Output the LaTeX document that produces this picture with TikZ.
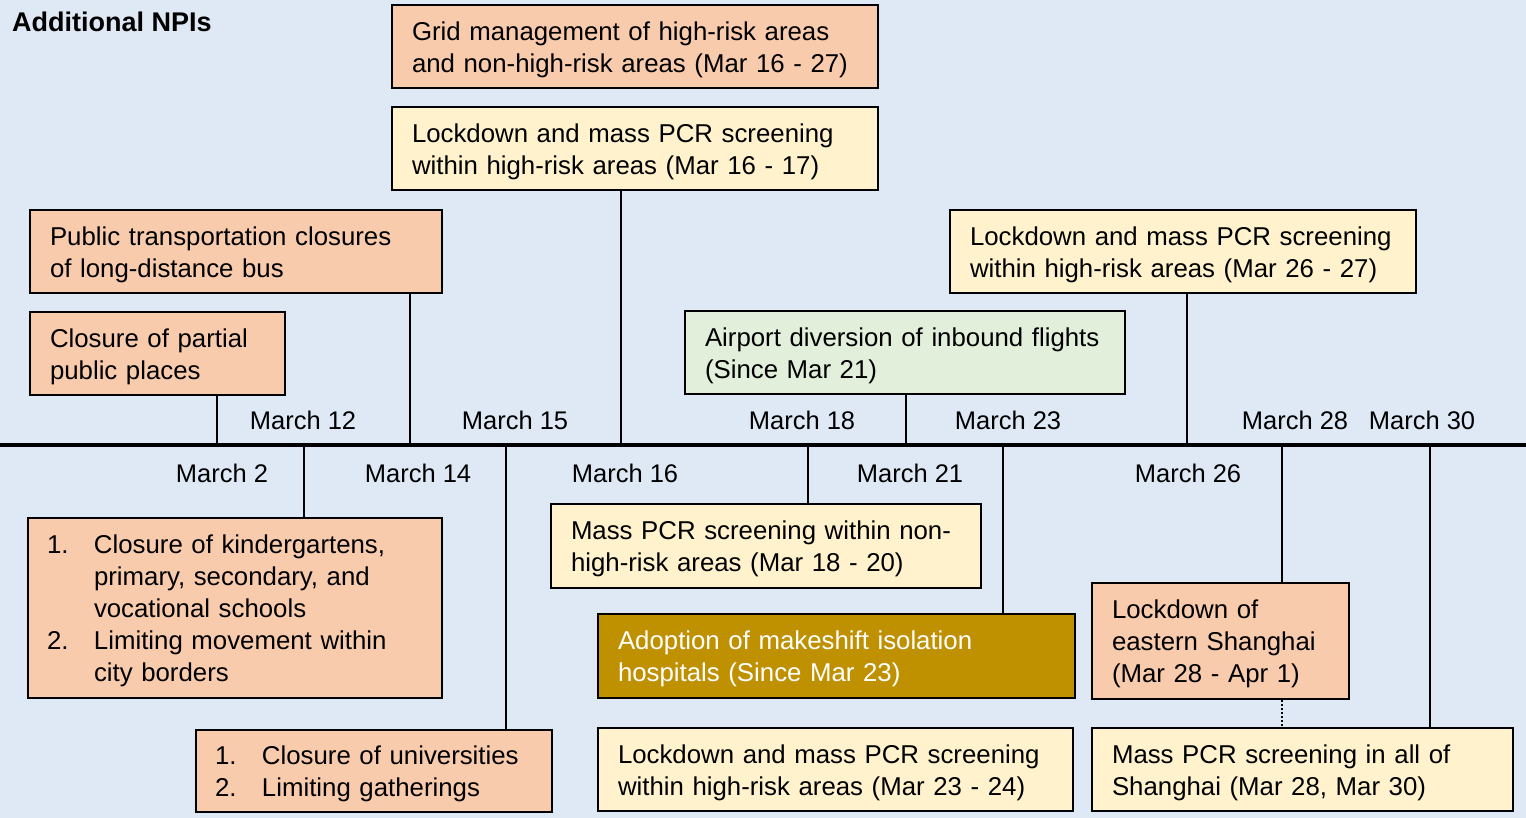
\documentclass[tikz,border=0pt]{standalone}
\usepackage{fontspec}
\setmainfont{Liberation Sans}
\definecolor{bgblue}{HTML}{DEE9F5}
\definecolor{salmon}{HTML}{F8CBAD}
\definecolor{lyellow}{HTML}{FFF2CC}
\definecolor{lgreen}{HTML}{E2EFDA}
\definecolor{gold}{HTML}{BF9000}
\tikzset{
  box/.style={draw=black, line width=2pt, anchor=north west, inner xsep=20pt, inner ysep=0pt, align=left, font=\fontsize{25.8}{32}\selectfont, execute at begin node={\rule{0pt}{25pt}}},
  datelbl/.style={inner sep=0pt, font=\fontsize{25.5}{30}\selectfont},
  conn/.style={line width=2pt, draw=black},
}
\newcommand{\itm}[1]{\makebox[47pt][l]{#1}}
\newcommand{\ind}{\hspace*{47pt}}
\begin{document}
\begin{tikzpicture}[x=1pt,y=-1pt]
\fill[bgblue] (0,0) rectangle (1526,818);
\useasboundingbox (0,0) rectangle (1526,818);
\node[anchor=west, inner sep=0pt, font=\fontsize{27}{32}\selectfont\bfseries] (title) at (12,22) {Additional NPIs};
% timeline
\coordinate (tl0) at (0,445);
\coordinate (tl1) at (1526,445);
\draw[line width=4pt] (tl0) -- (tl1);
% top boxes
\node[box, fill=salmon, text width=446pt, minimum height=83pt] (grid) at (391,4) {Grid management of high-risk areas\\and non-high-risk areas (Mar 16 - 27)};
\node[box, fill=lyellow, text width=446pt, minimum height=83pt] (lockA) at (391,106) {Lockdown and mass PCR screening\\within high-risk areas (Mar 16 - 17)};
\node[box, fill=salmon, text width=372pt, minimum height=83pt] (transport) at (29,209) {Public transportation closures\\of long-distance bus};
\node[box, fill=salmon, text width=215pt, minimum height=83pt] (partial) at (29,311) {Closure of partial\\public places};
\node[box, fill=lgreen, text width=400pt, minimum height=83pt] (airport) at (684,310) {Airport diversion of inbound flights\\(Since Mar 21)};
\node[box, fill=lyellow, text width=426pt, minimum height=83pt] (lockD) at (949,209) {Lockdown and mass PCR screening\\within high-risk areas (Mar 26 - 27)};
% bottom boxes
\node[box, fill=salmon, text width=376pt, inner xsep=19pt, minimum height=180pt] (kinder) at (27,517) {\itm{1.}Closure of kindergartens,\\\ind primary, secondary, and\\\ind vocational schools\\\itm{2.}Limiting movement within\\\ind city borders};
\node[box, fill=salmon, text width=318pt, inner xsep=19pt, minimum height=82pt] (univ) at (195,729) {\itm{1.}Closure of universities\\\itm{2.}Limiting gatherings};
\node[box, fill=lyellow, text width=390pt, minimum height=84pt] (pcrnon) at (550,503) {\mbox{Mass PCR screening within non-}\\\mbox{high-risk areas (Mar 18 - 20)}};
\node[box, fill=gold, text=white, text width=437pt, minimum height=84pt] (makeshift) at (597,613) {Adoption of makeshift isolation\\hospitals (Since Mar 23)};
\node[box, fill=lyellow, text width=435pt, minimum height=83pt] (lockC) at (597,727) {Lockdown and mass PCR screening\\within high-risk areas (Mar 23 - 24)};
\node[box, fill=salmon, text width=217pt, minimum height=116pt] (eastern) at (1091,582) {Lockdown of\\eastern Shanghai\\(Mar 28 - Apr 1)};
\node[box, fill=lyellow, text width=381pt, minimum height=83pt] (pcrall) at (1091,727) {Mass PCR screening in all of\\Shanghai (Mar 28, Mar 30)};
% timeline anchor points
\coordinate (u1) at (217,445);
\coordinate (u2) at (410,445);
\coordinate (u3) at (621,445);
\coordinate (u4) at (906,445);
\coordinate (u5) at (1187,445);
\coordinate (d1) at (304,445);
\coordinate (d2) at (506,445);
\coordinate (d3) at (808,445);
\coordinate (d4) at (1003,445);
\coordinate (d5) at (1282,445);
\coordinate (d6) at (1430,445);
% connectors
\draw[conn] (partial.south -| u1) -- (u1);
\draw[conn] (transport.south -| u2) -- (u2);
\draw[conn] (lockA.south -| u3) -- (u3);
\draw[conn] (airport.south -| u4) -- (u4);
\draw[conn] (lockD.south -| u5) -- (u5);
\draw[conn] (d1) -- (kinder.north -| d1);
\draw[conn] (d2) -- (univ.north -| d2);
\draw[conn] (d3) -- (pcrnon.north -| d3);
\draw[conn] (d4) -- (makeshift.north -| d4);
\draw[conn] (d5) -- (eastern.north -| d5);
\draw[conn] (d6) -- (pcrall.north -| d6);
\draw[line width=2pt, dotted] (eastern.south -| d5) -- (pcrall.north -| d5);
% date labels
\node[datelbl] (m12) at (303,420) {March 12};
\node[datelbl] (m15) at (515,420) {March 15};
\node[datelbl] (m18) at (802,420) {March 18};
\node[datelbl] (m23) at (1008,420) {March 23};
\node[datelbl] (m28) at (1295,420) {March 28};
\node[datelbl] (m30) at (1422,420) {March 30};
\node[datelbl] (m2) at (222,473) {March 2};
\node[datelbl] (m14) at (418,473) {March 14};
\node[datelbl] (m16) at (625,473) {March 16};
\node[datelbl] (m21) at (910,473) {March 21};
\node[datelbl] (m26) at (1188,473) {March 26};
\end{tikzpicture}
\end{document}
